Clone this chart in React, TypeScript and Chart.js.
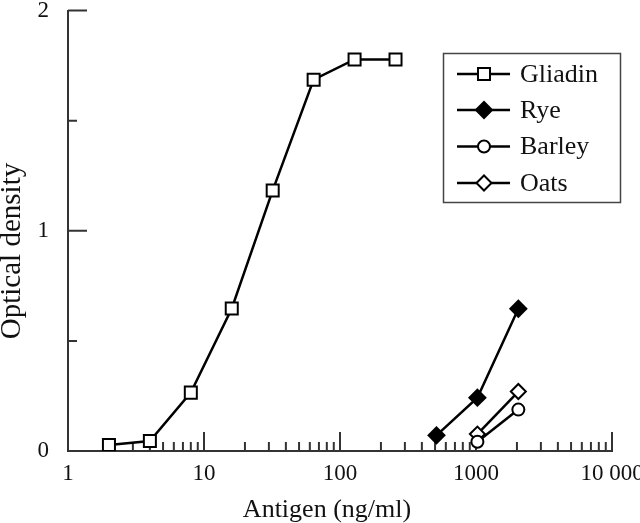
import React, { useEffect, useRef } from "react";
import { Chart, registerables } from "chart.js";

Chart.register(...registerables);

// ---- data ----
const seriesNames = ["Gliadin", "Rye", "Barley", "Oats"];
const gliadinX = [2, 4, 8, 16, 32, 64, 128, 256];
const gliadinY = [0.027, 0.045, 0.265, 0.647, 1.183, 1.686, 1.778, 1.778];
const ryeX = [512, 1024, 2048];
const ryeY = [0.071, 0.242, 0.646];
const barleyX = [1024, 2048];
const barleyY = [0.042, 0.188];
const oatsX = [1024, 2048];
const oatsY = [0.077, 0.27];
const xDecades = [1, 10, 100, 1000];
const xMajorLabels: Record<string, string> = { "1": "1", "10": "10", "100": "100", "1000": "1000", "10000": "10 000" };
const yTickLabels: Record<string, string> = { "0": "0", "1": "1", "2": "2" };

const FONT = '"Liberation Serif", "Times New Roman", Times, serif';
const AXIS = "#333";

const pts = (xs: number[], ys: number[]) => xs.map((x, i) => ({ x, y: ys[i] }));

const isPow10 = (v: number) => {
  const l = Math.log10(v);
  return Math.abs(l - Math.round(l)) < 1e-9;
};

function drawMarker(ctx: CanvasRenderingContext2D, style: string, x: number, y: number, r: number, fill: string) {
  ctx.beginPath();
  if (style === "rect") {
    const s = Math.SQRT1_2 * r;
    ctx.rect(x - s, y - s, 2 * s, 2 * s);
  } else if (style === "rectRot") {
    ctx.moveTo(x - r, y);
    ctx.lineTo(x, y - r);
    ctx.lineTo(x + r, y);
    ctx.lineTo(x, y + r);
    ctx.closePath();
  } else {
    ctx.arc(x, y, r, 0, Math.PI * 2);
  }
  ctx.fillStyle = fill;
  ctx.fill();
  ctx.stroke();
}

const decorPlugin = {
  id: "decor",
  beforeDatasetsDraw(chart: any) {
    const { ctx, chartArea, scales } = chart;
    const xs = scales.x;
    const ys = scales.y;
    ctx.save();
    ctx.strokeStyle = AXIS;
    ctx.lineWidth = 2;
    ctx.beginPath();
    const xTicks: number[] = [];
    xDecades.forEach((d) => {
      for (let m = 1; m <= 9; m++) xTicks.push(m * d);
    });
    xTicks.push(10000);
    xTicks.forEach((v) => {
      const px = xs.getPixelForValue(v);
      const len = isPow10(v) ? 19 : 9;
      ctx.moveTo(px, chartArea.bottom);
      ctx.lineTo(px, chartArea.bottom - len);
    });
    ys.ticks.forEach((t: any) => {
      if (t.value === 0) return;
      const py = ys.getPixelForValue(t.value);
      const len = Number.isInteger(t.value) ? 19 : 9;
      ctx.moveTo(chartArea.left, py);
      ctx.lineTo(chartArea.left + len, py);
    });
    ctx.stroke();
    ctx.restore();
  },
  afterDraw(chart: any) {
    const { ctx } = chart;
    ctx.save();
    // axis titles
    ctx.fillStyle = "#111";
    ctx.font = `26px ${FONT}`;
    ctx.textAlign = "center";
    ctx.textBaseline = "alphabetic";
    ctx.fillText("Antigen (ng/ml)", 327, 517);
    ctx.save();
    ctx.translate(20, 251);
    ctx.rotate(-Math.PI / 2);
    ctx.font = `29px ${FONT}`;
    ctx.fillText("Optical density", 0, 0);
    ctx.restore();

    // legend
    ctx.strokeStyle = "#444";
    ctx.lineWidth = 1.5;
    ctx.strokeRect(443.5, 53.5, 177, 149);
    const rows = [74, 110, 146.5, 183];
    chart.data.datasets.forEach((ds: any, i: number) => {
      const y = rows[i];
      ctx.strokeStyle = "#000";
      ctx.lineWidth = 2.5;
      ctx.beginPath();
      ctx.moveTo(457, y);
      ctx.lineTo(510, y);
      ctx.stroke();
      ctx.lineWidth = 2;
      drawMarker(ctx, ds.pointStyle, 484, y, ds.pointRadius, ds.pointBackgroundColor);
      ctx.fillStyle = "#111";
      ctx.font = `26px ${FONT}`;
      ctx.textAlign = "left";
      ctx.textBaseline = "middle";
      ctx.fillText(ds.label, 520, y + 1);
    });
    ctx.restore();
  },
};

export default function App() {
  const ref = useRef<HTMLCanvasElement>(null);
  useEffect(() => {
    document.body.style.margin = "0";
    const common = { borderColor: "#000", borderWidth: 2.5, pointBorderColor: "#000", pointBorderWidth: 2, tension: 0 };
    const chart = new Chart(ref.current!, {
      type: "line",
      data: {
        datasets: [
          { ...common, label: seriesNames[0], data: pts(gliadinX, gliadinY), pointStyle: "rect", pointRadius: 8.5, pointBackgroundColor: "#fff" },
          { ...common, label: seriesNames[1], data: pts(ryeX, ryeY), pointStyle: "rectRot", pointRadius: 8, pointBackgroundColor: "#000" },
          { ...common, label: seriesNames[2], data: pts(barleyX, barleyY), pointStyle: "circle", pointRadius: 6, pointBackgroundColor: "#fff" },
          { ...common, label: seriesNames[3], data: pts(oatsX, oatsY), pointStyle: "rectRot", pointRadius: 7.5, pointBackgroundColor: "#fff" },
        ] as any,
      },
      options: {
        animation: false,
        responsive: false,
        layout: { padding: { left: 0, top: 7, right: 28, bottom: 0 } },
        plugins: { legend: { display: false }, tooltip: { enabled: false } },
        scales: {
          x: {
            type: "logarithmic",
            min: 1,
            max: 10000,
            grid: { display: false },
            border: { display: true, color: AXIS, width: 2 },
            ticks: {
              autoSkip: false,
              maxRotation: 0,
              padding: 1,
              color: "#111",
              font: { family: FONT, size: 23 },
              callback: (v: any) => {
                const n = Number(v);
                if (!isPow10(n)) return null;
                return xMajorLabels[String(Math.round(n))] ?? null;
              },
            },
            afterFit: (s: any) => {
              s.height = 72;
              s.paddingLeft = 0;
              s.paddingRight = 0;
            },
          },
          y: {
            min: 0,
            max: 2,
            grid: { display: false },
            border: { display: true, color: AXIS, width: 2 },
            ticks: {
              stepSize: 0.5,
              padding: 11,
              color: "#111",
              font: { family: FONT, size: 23 },
              callback: (v: any) => yTickLabels[String(v)] ?? "",
            },
            afterFit: (s: any) => {
              s.width = 68;
              s.paddingTop = 0;
              s.paddingBottom = 0;
            },
          },
        },
      } as any,
      plugins: [decorPlugin],
    });
    return () => chart.destroy();
  }, []);
  return (
    <div style={{ width: 640, height: 523, background: "#fff" }}>
      <canvas ref={ref} width={640} height={523} style={{ display: "block" }} />
    </div>
  );
}
